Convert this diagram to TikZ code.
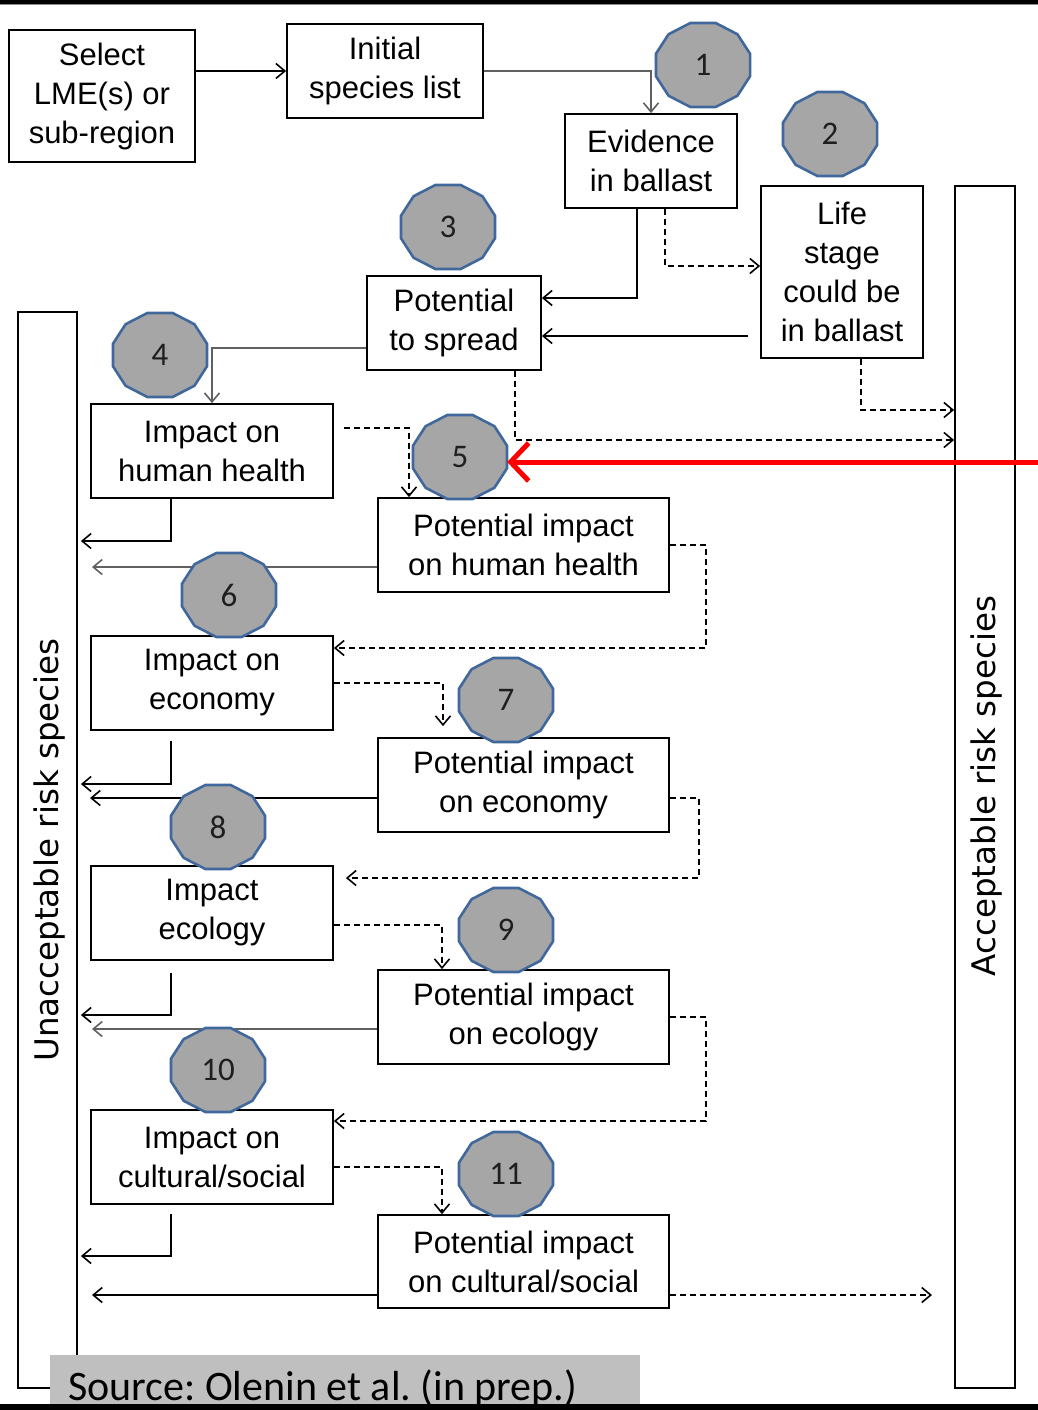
\documentclass[tikz,border=0pt]{standalone}
\usepackage{fontspec}
\setmainfont{Liberation Sans}
\newfontfamily\carl{Carlito}
\newfontfamily\dvs{DejaVu Sans}
\usetikzlibrary{arrows.meta}
\definecolor{numfill}{HTML}{A6A6A6}
\definecolor{numline}{HTML}{41689C}
\definecolor{srcgray}{HTML}{BFBFBF}
\definecolor{lgray}{HTML}{606060}
\newcommand\numcirc[3]{%
  \draw[numdraw, shift={#2}] plot[samples=13, domain=15:375] ({48.7*cos(\x)},{43.5*sin(\x)}) -- cycle;
  \node[numtext] (#1) at #2 {#3};}
\frenchspacing
\begin{document}
\begin{tikzpicture}[x=1pt,y=-1pt,
  box/.style={draw=black, line width=1.8pt, align=center, inner sep=0pt,
    font=\fontsize{31}{39}\selectfont},
  side/.style={draw=black, line width=1.8pt, inner sep=0pt},
  sidetext/.style={rotate=90, font=\dvs\fontsize{32.5}{40}\selectfont},
  arr/.style={line width=1.8pt, -{Straight Barb[length=9pt,width=15pt,line width=1.6pt]}},
  darr/.style={arr, dash pattern=on 6pt off 4pt},
  glin/.style={draw=lgray},
  numdraw/.style={fill=numfill, draw=numline, line width=2.6pt, line join=round},
  numtext/.style={minimum width=94pt, minimum height=84pt, inner sep=0pt,
    text=black!88, font=\carl\fontsize{33}{36}\selectfont},
  redarr/.style={draw=red, line width=5pt, -{Straight Barb[length=18pt,width=38pt,line width=5pt]}}
]
\useasboundingbox (0,0) rectangle (1038,1410);
\fill[white] (0,0) rectangle (1038,1410);

% boxes
\node[box, minimum width=186pt, minimum height=132pt] (sel) at (102,96) {Select\\LME(s) or\\sub-region};
\node[box, minimum width=196pt, minimum height=94pt] (init) at (385,71) {Initial\\species list};
\node[box, minimum width=172pt, minimum height=94pt] (evid) at (651,161) {Evidence\\in ballast};
\node[box, minimum width=162pt, minimum height=172pt] (life) at (842,272) {Life\\stage\\could be\\in ballast};
\node[box, minimum width=174pt, minimum height=94pt] (spread) at (454,323) {Potential\\to spread};
\node[box, minimum width=242pt, minimum height=94pt] (ihh) at (212,451) {Impact on\\human health};
\node[box, minimum width=291pt, minimum height=94pt] (pihh) at (523.5,545) {Potential impact\\on human health};
\node[box, minimum width=242pt, minimum height=94pt] (iec) at (212,683) {Impact on\\economy};
\node[box, minimum width=291pt, minimum height=94pt] (piec) at (523.5,785) {Potential impact\\on economy};
\node[box, minimum width=242pt, minimum height=94pt] (iecol) at (212,913) {Impact\\ecology};
\node[box, minimum width=291pt, minimum height=94pt] (piecol) at (523.5,1017) {Potential impact\\on ecology};
\node[box, minimum width=242pt, minimum height=94pt] (icul) at (212,1157) {Impact on\\cultural/social};
\node[box, minimum width=291pt, minimum height=93pt] (picul) at (523.5,1261.5) {Potential impact\\on cultural/social};

% side columns
\node[side, minimum width=59pt, minimum height=1076pt] (unacc) at (47.5,850) {};
\node[sidetext] (unacct) at (50,850) {Unacceptable risk species};
\node[side, minimum width=60pt, minimum height=1202pt] (acc) at (985,787) {};
\node[sidetext] (acct) at (987,786) {Acceptable risk species};

% free ends
\coordinate (u1) at (92,567);
\coordinate (u2) at (90,798);
\coordinate (u3) at (92,1029);
\coordinate (u4) at (92,1295);
\coordinate (a1) at (932,1295);
\coordinate (redstart) at (1040,462);

% connectors
\draw[arr] (sel.east |- init.west) -- (init.west);
\draw[arr, glin] (init.east) -| (evid.north);
\draw[arr] ([xshift=-14pt]evid.south) |- ([yshift=25pt]spread.east);
\draw[darr] ([xshift=14pt]evid.south) |- ([yshift=6pt]life.west);
\draw[arr] ([xshift=-12pt,yshift=-64pt]life.west) -- ([yshift=-13pt]spread.east);
\draw[darr] ([xshift=19pt]life.south) |- ([yshift=377pt]acc.west);
\draw[darr] ([xshift=61pt]spread.south) |- ([yshift=347pt]acc.west);
\draw[arr, glin] ([yshift=-25pt]spread.west) -| (ihh.north);
\draw[darr] ([xshift=10pt,yshift=23pt]ihh.east) -| ([xshift=-114.5pt]pihh.north);
\draw[arr] ([xshift=-41pt]ihh.south) |- ([xshift=3pt,yshift=309pt]unacc.east);
\draw[arr, glin] ([yshift=-22pt]pihh.west) -- (u1);
\draw[darr] (pihh.east) -- ++(36,0) |- ([yshift=35pt]iec.east);
\draw[darr] (iec.east) -| ([xshift=-80.5pt,yshift=11pt]piec.north);
\draw[arr] ([xshift=-41pt,yshift=-10pt]iec.south) |- ([xshift=3pt,yshift=66pt]unacc.east);
\draw[arr] ([yshift=-13pt]piec.west) -- (u2);
\draw[darr] ([yshift=-13pt]piec.east) -- ++(29,0) |- ([xshift=12pt,yshift=35pt]iecol.east);
\draw[darr] ([yshift=-12pt]iecol.east) -| ([xshift=-81.5pt]piecol.north);
\draw[arr] ([xshift=-41pt,yshift=-12pt]iecol.south) |- ([xshift=3pt,yshift=-165pt]unacc.east);
\draw[arr, glin] ([yshift=-12pt]piecol.west) -- (u3);
\draw[darr] (piecol.east) -- ++(36,0) |- ([yshift=36pt]icul.east);
\draw[darr] ([yshift=-10pt]icul.east) -| ([xshift=-81.5pt]picul.north);
\draw[arr] ([xshift=-41pt,yshift=-9pt]icul.south) |- ([xshift=3pt,yshift=-406pt]unacc.east);
\draw[arr] ([yshift=-33.5pt]picul.west) -- (u4);
\draw[darr] ([yshift=-33.5pt]picul.east) -- (a1);

% numbered markers
\numcirc{c1}{(703,65)}{1}
\numcirc{c2}{(830,134)}{2}
\numcirc{c3}{(448,227)}{3}
\numcirc{c4}{(160,355)}{4}
\numcirc{c5}{(460,457)}{5}
\numcirc{c6}{(229,595)}{6}
\numcirc{c7}{(506,700)}{7}
\numcirc{c8}{(218,827)}{8}
\numcirc{c9}{(506,930)}{9}
\numcirc{c10}{(218,1070)}{10}
\numcirc{c11}{(506,1174)}{11}

% source box and frame bars
\fill[srcgray] (50,1355) rectangle (640,1405);
\fill[black] (0,0) rectangle (1038,4);
\fill[black!45] (0,4) rectangle (1038,5.5);
\fill[black] (0,1404) rectangle (1038,1410);
\node[anchor=base west, inner sep=0pt, font=\carl\fontsize{42}{46}\selectfont] (src) at (68,1400) {Source: Olenin et al. (in prep.)};

% red pointer
\draw[redarr] (redstart) -- (redstart -| c5.east);
\end{tikzpicture}
\end{document}
